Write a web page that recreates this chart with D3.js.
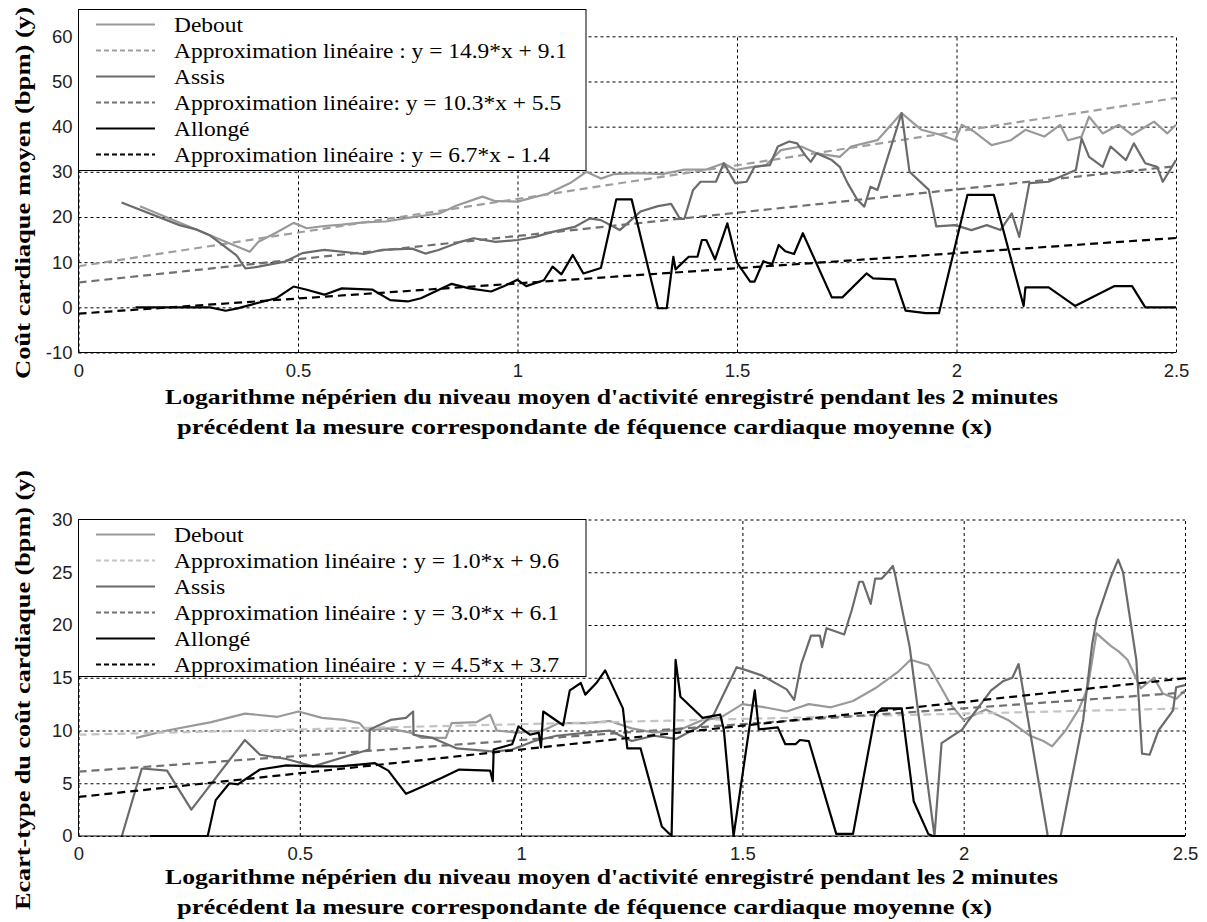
<!DOCTYPE html>
<html><head><meta charset="utf-8">
<script src="https://cdn.jsdelivr.net/npm/d3@7"></script>
<style>
body{margin:0;background:#fff;}
svg{display:block;}
</style></head><body>
<svg id="chart" width="1207" height="922"></svg>
<script>
// ---------- DATA ----------
const xTicks = [0, 0.5, 1, 1.5, 2, 2.5];
const topYTicks = [-10, 0, 10, 20, 30, 40, 50, 60];
const botYTicks = [0, 5, 10, 15, 20, 25, 30];
const seriesNames = ["Debout", "Assis", "Allongé"];

// Top panel: Coût cardiaque moyen
const topDebout = [[0.14,22.4],[0.39,12.3],[0.41,14.5],[0.45,16.5],[0.49,18.7],[0.52,17.5],[0.56,18],[0.6,18.3],[0.65,18.8],[0.7,19],[0.75,19.8],[0.8,20.5],[0.823,20.8],[0.86,22.5],[0.92,24.5],[0.95,23.5],[1.0,23.4],[1.07,25.2],[1.12,27.5],[1.157,30],[1.19,28.5],[1.22,29.5],[1.275,29.7],[1.33,29.5],[1.38,30.5],[1.43,30.5],[1.47,31.9],[1.496,30.4],[1.53,31],[1.566,31.5],[1.6,34.8],[1.646,35.6],[1.681,34.1],[1.734,33.3],[1.76,35.6],[1.82,37],[1.875,43],[1.92,39.3],[1.963,38.2],[1.997,37],[2.012,40.4],[2.04,38.9],[2.08,35.9],[2.124,37],[2.157,39.3],[2.2,37.8],[2.236,40.4],[2.254,37],[2.285,37.8],[2.302,42.2],[2.333,38.5],[2.37,40.4],[2.4,38.2],[2.45,41.1],[2.48,38.5],[2.5,40.4]];
const topAssis = [[0.098,23.2],[0.23,18.2],[0.27,17.2],[0.3,15.9],[0.36,11.5],[0.38,8.6],[0.41,9.0],[0.47,10.1],[0.51,12],[0.56,12.7],[0.65,11.8],[0.69,12.7],[0.76,13],[0.79,11.9],[0.82,12.7],[0.87,14.5],[0.9,15.3],[0.95,14.5],[1.0,14.9],[1.04,15.6],[1.08,16.7],[1.13,17.8],[1.165,19.7],[1.19,19.3],[1.233,17.1],[1.28,21.2],[1.32,22.4],[1.35,22.9],[1.37,19.6],[1.38,19.6],[1.4,26],[1.417,27.8],[1.452,27.8],[1.47,31.9],[1.496,27.5],[1.522,27.8],[1.54,31.1],[1.575,31.5],[1.593,35.6],[1.619,36.7],[1.637,36.3],[1.655,33.7],[1.668,32.2],[1.681,34.1],[1.716,32.6],[1.734,31.1],[1.752,27.5],[1.774,23.8],[1.79,22.3],[1.804,26.7],[1.82,26],[1.875,43],[1.893,30],[1.937,26],[1.954,17.9],[1.997,18.2],[2.034,17.1],[2.069,18.2],[2.1,17.1],[2.126,20.8],[2.143,15.6],[2.166,27.5],[2.21,27.8],[2.272,30.4],[2.285,37.4],[2.302,33.3],[2.333,31.1],[2.351,35.6],[2.386,32.6],[2.404,36.3],[2.43,31.9],[2.457,31.1],[2.47,27.8],[2.5,32.6]];
const topAllonge = [[0.13,0],[0.23,0],[0.3,0],[0.335,-0.75],[0.36,-0.3],[0.39,0.5],[0.45,2],[0.49,4.6],[0.52,3.9],[0.56,2.8],[0.6,4.2],[0.67,3.9],[0.71,1.6],[0.75,1.3],[0.78,2],[0.85,5.2],[0.89,4.2],[0.94,3.5],[0.97,4.7],[1.0,6.1],[1.02,4.7],[1.06,6],[1.08,9],[1.1,7.3],[1.126,11.6],[1.15,7.5],[1.19,8.7],[1.225,23.9],[1.26,23.9],[1.32,-0.2],[1.34,-0.2],[1.355,11.2],[1.36,8.4],[1.39,11.2],[1.41,11.2],[1.42,14.9],[1.43,14.9],[1.45,10.6],[1.478,18.6],[1.5,9.9],[1.53,5.7],[1.54,5.7],[1.56,10.2],[1.58,9.5],[1.595,13.8],[1.61,12.4],[1.63,11.8],[1.65,16.4],[1.716,2.2],[1.74,2.2],[1.795,7.5],[1.81,6.4],[1.86,6.2],[1.884,-0.75],[1.93,-1.3],[1.96,-1.3],[2.025,24.9],[2.085,24.9],[2.153,0.3],[2.157,4.4],[2.21,4.4],[2.27,0.3],[2.36,4.7],[2.4,4.7],[2.43,0],[2.5,0]];
const topFitSlopes = [14.9, 10.3, 6.7];
const topFitIntercepts = [9.1, 5.5, -1.4];
const topLegendLabels = ["Debout","Approximation linéaire : y = 14.9*x + 9.1","Assis","Approximation linéaire: y = 10.3*x + 5.5","Allongé","Approximation linéaire : y = 6.7*x - 1.4"];

// Bottom panel: Ecart-type du coût cardiaque
const botDebout = [[0.13,9.3],[0.2,10],[0.3,10.8],[0.376,11.6],[0.45,11.3],[0.497,11.8],[0.55,11.2],[0.6,11],[0.635,10.7],[0.65,10],[0.7,10.2],[0.75,9.8],[0.774,9.3],[0.83,9.3],[0.843,10.7],[0.9,10.8],[0.93,11.5],[0.945,10],[0.99,9.8],[1.05,10],[1.085,10.7],[1.15,10.7],[1.2,10.9],[1.25,10.2],[1.3,9.8],[1.36,10.1],[1.41,11],[1.45,11.2],[1.5,12.5],[1.55,12.2],[1.6,11.8],[1.65,12.5],[1.7,12.2],[1.75,12.8],[1.8,14],[1.85,15.5],[1.88,16.7],[1.92,16.2],[1.95,14],[1.97,12.5],[2.0,11],[2.05,12],[2.1,11],[2.15,9.5],[2.18,9],[2.2,8.5],[2.23,10],[2.26,12],[2.28,14],[2.3,19.2],[2.333,18],[2.35,17.5],[2.37,16.7],[2.4,14],[2.43,15],[2.45,13.5],[2.48,13],[2.5,13.8]];
const botAssis = [[0.098,0],[0.143,6.4],[0.2,6.2],[0.255,2.5],[0.376,9.1],[0.41,7.7],[0.47,7.3],[0.53,6.6],[0.61,7.6],[0.657,8.2],[0.658,10.1],[0.705,11],[0.74,11.2],[0.756,11.8],[0.757,9.6],[0.8,9.3],[0.855,8.3],[0.94,8],[0.98,8.2],[1.03,9],[1.08,9.5],[1.15,9.8],[1.2,10],[1.25,9],[1.3,9.5],[1.35,9.2],[1.4,10.3],[1.435,11.5],[1.487,16],[1.51,15.7],[1.545,15.2],[1.6,13.9],[1.617,12.9],[1.633,16.3],[1.655,19],[1.675,19],[1.68,17.9],[1.69,19.7],[1.73,19.1],[1.747,21.4],[1.764,24.1],[1.772,24.1],[1.79,22],[1.8,24.4],[1.815,24.4],[1.83,25.1],[1.84,25.6],[1.845,24.8],[1.878,17.9],[1.934,0],[1.95,8.8],[1.997,10.1],[2.01,10.9],[2.062,13.8],[2.09,14.7],[2.11,15],[2.124,16.3],[2.19,0],[2.219,0],[2.27,11],[2.29,18.1],[2.3,20.5],[2.333,24.6],[2.349,26.2],[2.36,25],[2.39,16.7],[2.403,7.8],[2.42,7.7],[2.44,10],[2.473,11.9],[2.48,14.1],[2.5,14.3]];
const botAllonge = [[0.162,0],[0.292,0],[0.31,3.4],[0.341,5],[0.36,4.9],[0.41,6.3],[0.47,6.7],[0.53,6.6],[0.59,6.6],[0.67,6.9],[0.7,6.2],[0.74,4.0],[0.756,4.3],[0.82,5.5],[0.86,6.3],[0.93,6.2],[0.936,5.2],[0.938,8.2],[0.98,8.7],[0.994,10.4],[1.02,9.6],[1.04,9.8],[1.045,8.4],[1.05,11.8],[1.095,10.5],[1.11,13.8],[1.135,14.5],[1.145,13.4],[1.17,14.5],[1.19,15.7],[1.23,12.1],[1.24,8.3],[1.27,8.3],[1.318,0.9],[1.34,0],[1.349,16.7],[1.36,13.2],[1.395,11.8],[1.41,11.2],[1.45,11.5],[1.458,10.1],[1.48,0],[1.528,13.8],[1.537,10.1],[1.58,10.3],[1.597,8.7],[1.62,8.7],[1.63,9.1],[1.65,9],[1.712,0.2],[1.75,0.2],[1.8,11.5],[1.815,12.1],[1.86,12.1],[1.887,3.3],[1.92,0.2],[1.93,0],[2.5,0]];
const botFitSlopes = [1.0, 3.0, 4.5];
const botFitIntercepts = [9.6, 6.1, 3.7];
const botLegendLabels = ["Debout","Approximation linéaire : y = 1.0*x + 9.6","Assis","Approximation linéaire : y = 3.0*x + 6.1","Allongé","Approximation linéaire : y = 4.5*x + 3.7"];

const xTitleLines = ["Logarithme népérien du niveau moyen d'activité enregistré pendant les 2 minutes",
                     "précédent la mesure correspondante de féquence cardiaque moyenne (x)"];
const topYTitle = "Coût cardiaque moyen (bpm) (y)";
const botYTitle = "Ecart-type du coût cardiaque (bpm) (y)";

// ---------- DRAW ----------
const svg = d3.select("#chart");
svg.append("rect").attr("width",1207).attr("height",922).attr("fill","#fff");

const serif = "'Liberation Serif','Times New Roman',serif";
const sans = "'Liberation Sans',Arial,sans-serif";

function panel(cfg){
  const x = d3.scaleLinear().domain([0,2.5]).range(cfg.xr);
  const y = d3.scaleLinear().domain(cfg.yd).range(cfg.yr);
  const g = svg.append("g");
  const left = cfg.xr[0], right = cfg.xr[1], bottom = cfg.yr[0], top = cfg.yr[1];

  // grid
  const gx = g.append("g").attr("transform",`translate(0,${bottom})`)
    .call(d3.axisBottom(x).tickValues(xTicks).tickSize(-(bottom-top)).tickFormat(""));
  gx.select(".domain").remove();
  gx.selectAll("line").attr("stroke","#000").attr("stroke-dasharray","3,3").attr("stroke-width",1);
  const gy = g.append("g").attr("transform",`translate(${left},0)`)
    .call(d3.axisLeft(y).tickValues(cfg.yTicks).tickSize(-(right-left)).tickFormat(""));
  gy.select(".domain").remove();
  gy.selectAll("line").attr("stroke","#000").attr("stroke-dasharray","3,3").attr("stroke-width",1);

  const line = d3.line().x(d=>x(d[0])).y(d=>y(d[1]));
  const clipId = "clip"+cfg.id;
  svg.append("clipPath").attr("id",clipId).append("rect")
     .attr("x",left).attr("y",top-2).attr("width",right-left+2).attr("height",bottom-top+3);
  const plot = g.append("g").attr("clip-path",`url(#${clipId})`);

  cfg.series.forEach((s,i)=>{
    plot.append("path").datum(s).attr("d",line).attr("fill","none")
      .attr("stroke",cfg.colors[i]).attr("stroke-width",2.2).attr("stroke-linejoin","round");
    const fit = [0,2.5].map(v=>[v, cfg.slopes[i]*v + cfg.intercepts[i]]);
    plot.append("path").datum(fit).attr("d",line).attr("fill","none")
      .attr("stroke",cfg.fitColors[i]).attr("stroke-width",2.2).attr("stroke-dasharray","8,5");
  });

  // axes lines
  g.append("line").attr("x1",left).attr("x2",right).attr("y1",bottom).attr("y2",bottom).attr("stroke","#000");
  g.append("line").attr("x1",left).attr("x2",left).attr("y1",cfg.legendTop).attr("y2",bottom).attr("stroke","#000");

  // tick labels
  const ax = g.append("g").attr("transform",`translate(0,${bottom})`)
    .call(d3.axisBottom(x).tickValues(xTicks).tickSize(0).tickPadding(11).tickFormat(d=>String(d)));
  ax.select(".domain").remove();
  ax.selectAll("text").attr("font-family",sans).attr("font-size",18.5).attr("fill","#222");
  const ay = g.append("g").attr("transform",`translate(${left},0)`)
    .call(d3.axisLeft(y).tickValues(cfg.yTicks).tickSize(0).tickPadding(6).tickFormat(d=>String(d)));
  ay.select(".domain").remove();
  ay.selectAll("text").attr("font-family",sans).attr("font-size",18.5).attr("fill","#222");

  // legend
  const lg = g.append("g");
  lg.append("rect").attr("x",left).attr("y",cfg.legendTop).attr("width",507.5).attr("height",cfg.legendH)
    .attr("fill","#fff").attr("stroke","#000").attr("stroke-width",1);
  const texts = [];
  cfg.legend.forEach((lab,k)=>{
    const si = Math.floor(k/2), dashed = k%2===1;
    const yy = cfg.legendTop + 15 + k*cfg.legendStep;
    lg.append("line").attr("x1",96).attr("x2",155).attr("y1",yy).attr("y2",yy)
      .attr("stroke", dashed ? cfg.fitColors[si] : cfg.colors[si]).attr("stroke-width",2.2)
      .attr("stroke-dasharray", dashed ? "5,3" : null);
    const t = lg.append("text").attr("x",174).attr("y",yy+7).text(lab)
      .attr("font-family",serif).attr("font-size",22).attr("fill","#000");
    texts.push(t);
  });
  // stretch legend labels to the reference's wider spacing
  const refW = texts[1].node().getComputedTextLength();
  const k = cfg.legendLongW / refW;
  texts.forEach(t=>{
    const w = t.node().getComputedTextLength();
    t.attr("textLength", w*k).attr("lengthAdjust","spacingAndGlyphs");
  });

  // x title
  cfg.xTitle.forEach((t,k2)=>{
    g.append("text").attr("x",k2===0?165:177).attr("y",cfg.xTitleY + k2*30).text(t)
      .attr("font-family",serif).attr("font-weight","bold").attr("font-size",21)
      .attr("textLength",k2===0?893:815).attr("lengthAdjust","spacingAndGlyphs");
  });
  // y title
  g.append("text").attr("transform",`translate(30,${cfg.yTitleC}) rotate(-90)`)
    .attr("text-anchor","middle").text(cfg.yTitle)
    .attr("font-family",serif).attr("font-weight","bold").attr("font-size",22)
    .attr("textLength",cfg.yTitleLen).attr("lengthAdjust","spacingAndGlyphs");
}

panel({id:"top", xr:[78.5,1176], yd:[-10,60], yr:[352.5,36.3], yTicks:topYTicks,
  series:[topDebout, topAssis, topAllonge], colors:["#999999","#6b6b6b","#000"],
  fitColors:["#9e9e9e","#707070","#000"], slopes:topFitSlopes, intercepts:topFitIntercepts,
  legend:topLegendLabels, legendTop:9.5, legendH:161, legendStep:26, legendLongW:393,
  xTitle:xTitleLines, xTitleY:404, yTitle:topYTitle, yTitleC:193, yTitleLen:372});

panel({id:"bot", xr:[78.5,1185], yd:[0,30], yr:[836,519.5], yTicks:botYTicks,
  series:[botDebout, botAssis, botAllonge], colors:["#999999","#6b6b6b","#000"],
  fitColors:["#c4c4c4","#707070","#000"], slopes:botFitSlopes, intercepts:botFitIntercepts,
  legend:botLegendLabels, legendTop:519.5, legendH:157, legendStep:26, legendLongW:385,
  xTitle:xTitleLines, xTitleY:884, yTitle:botYTitle, yTitleC:690, yTitleLen:440});
</script>
</body></html>
